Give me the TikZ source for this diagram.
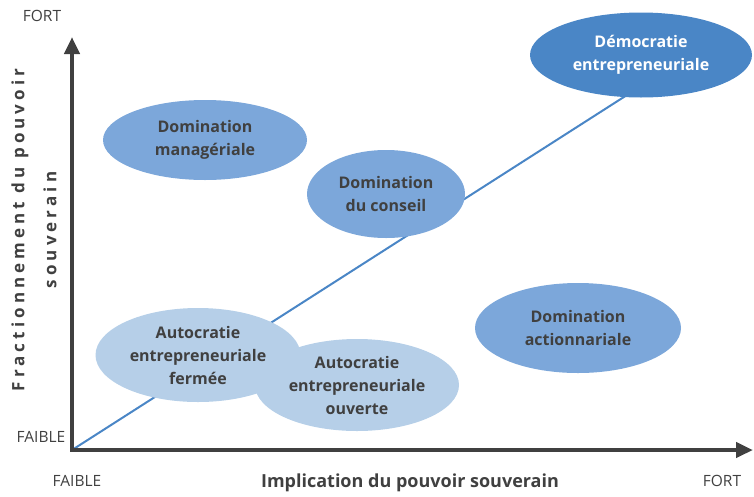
\documentclass[tikz,border=0pt]{standalone}
\usepackage{fontspec}
\setmainfont{Open Sans}
\usetikzlibrary{shapes.geometric, arrows.meta, backgrounds}
\definecolor{ink}{HTML}{404040}
\definecolor{deepblue}{HTML}{4A86C6}
\definecolor{midblue}{HTML}{7CA7DA}
\definecolor{paleblue}{HTML}{B6CFE8}
\tikzstyle{bubble}=[ellipse, align=center, inner sep=0pt, text=ink, font=\bfseries\fontsize{16}{23}\selectfont]
\tikzstyle{axis}=[draw=ink, line width=4.5pt, line cap=rect, -{Triangle[width=15pt,length=17pt]}]
\tikzstyle{tick}=[text=ink, inner sep=0pt, font=\fontsize{15.5}{18}\selectfont]
\tikzset{>=stealth}

\begin{document}
\begin{tikzpicture}[x=1pt, y=-1pt]
\useasboundingbox (0,0) rectangle (754,496);
% the corner and the tips of the axes
\coordinate (O) at (72,450);
\coordinate (ytip) at (72,37);
\coordinate (xtip) at (753,450);
\coordinate (E) at (627,95);
% the diagonal
\draw[deepblue, line width=2pt] (O) -- (E);
% the axes
\draw[axis] (O) -- (ytip);
\draw[axis] (O) -- (xtip);
% the scale ends
\node[tick] (yhi) at (42,16) {FORT};
\node[tick] (ylo) at (41,437) {FAIBLE};
\node[tick] (xlo) at (77,481) {FAIBLE};
\node[tick] (xhi) at (722,481) {FORT};
% the axis titles
\node[text=ink, font=\bfseries\fontsize{18}{22}\selectfont] (xt) at (410,483) {Implication du pouvoir souverain};
\node[text=ink, rotate=90, align=center, font=\bfseries\fontsize{17}{32}\selectfont\addfontfeature{LetterSpace=24}] (yt) at (34,230) {Fractionnement du pouvoir\\souverain};
% the upper ellipses
\node[bubble, fill=deepblue, text=white, minimum width=222pt, minimum height=85pt] (demo) at (641,55) {Démocratie\\entrepreneuriale};
\node[bubble, fill=midblue, minimum width=204pt, minimum height=80pt] (mana) at (205,140) {Domination\\managériale};
\node[bubble, fill=midblue, minimum width=158pt, minimum height=88pt] (cons) at (386,194) {Domination\\du conseil};
\node[bubble, fill=midblue, minimum width=206pt, minimum height=90pt] (actio) at (578,328) {Domination\\actionnariale};
% the lower ellipses
\node[bubble, fill=paleblue, minimum width=205pt, minimum height=94pt] (ferm) at (198,355) {Autocratie\\entrepreneuriale\\fermée};
\node[bubble, fill=paleblue, minimum width=204pt, minimum height=92pt] (ouv) at (357,385) {Autocratie\\entrepreneuriale\\ouverte};
\end{tikzpicture}
\end{document}
